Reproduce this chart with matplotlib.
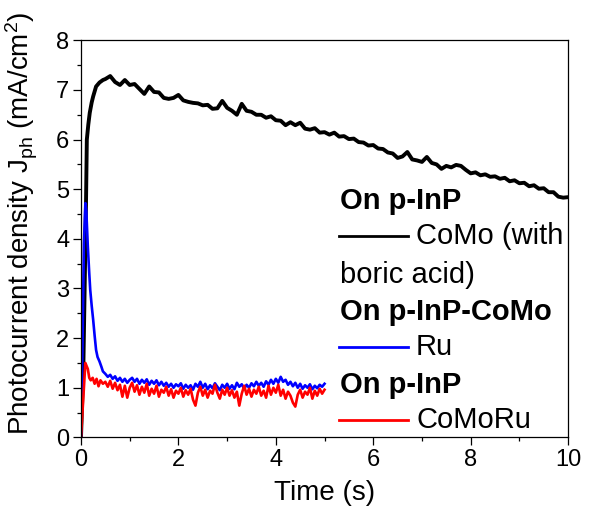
import numpy as np
import matplotlib
matplotlib.use('Agg')
import matplotlib.pyplot as plt
from matplotlib.ticker import MultipleLocator

plt.rcParams['font.family'] = ['Liberation Sans', 'DejaVu Sans']
plt.rcParams['mathtext.fontset'] = 'custom'
plt.rcParams['mathtext.rm'] = 'Liberation Sans'
plt.rcParams['mathtext.default'] = 'regular'

# CoMo (with boric acid) on p-InP
como_t_head = [0, 0.05, 0.10, 0.12, 0.15, 0.18, 0.22, 0.25, 0.31, 0.38, 0.45]
como_v_head = [0, 1.5, 4.5, 6.0, 6.3, 6.54, 6.75, 6.87, 7.07, 7.15, 7.2]
como_v_tail = [  # 0.5 .. 10.0 s, every 0.1 s
    7.22, 7.28, 7.16, 7.10, 7.20, 7.10, 7.12, 7.02, 6.92, 7.07,
    6.96, 6.95, 6.84, 6.82, 6.84, 6.90, 6.79, 6.76, 6.74, 6.73,
    6.69, 6.70, 6.62, 6.63, 6.78, 6.64, 6.58, 6.50, 6.72, 6.58,
    6.56, 6.50, 6.50, 6.44, 6.47, 6.39, 6.38, 6.29, 6.35, 6.29,
    6.34, 6.22, 6.20, 6.23, 6.14, 6.15, 6.10, 6.14, 6.06, 6.07,
    6.01, 6.02, 5.95, 5.94, 5.88, 5.89, 5.82, 5.81, 5.74, 5.72,
    5.63, 5.66, 5.75, 5.60, 5.58, 5.55, 5.65, 5.53, 5.50, 5.41,
    5.47, 5.44, 5.49, 5.47, 5.39, 5.32, 5.34, 5.28, 5.30, 5.25,
    5.26, 5.21, 5.23, 5.16, 5.18, 5.12, 5.13, 5.06, 5.08, 5.01,
    5.02, 4.94, 4.94, 4.85, 4.83, 4.84]

# Ru on p-InP-CoMo
ru_t_head = [0, 0.03, 0.06, 0.09, 0.11, 0.14, 0.17, 0.19, 0.22, 0.25, 0.28,
             0.31, 0.34, 0.38, 0.42, 0.45]
ru_v_head = [0, 1.8, 3.9, 4.72, 4.55, 3.85, 3.3, 2.97, 2.65, 2.37, 2.05,
             1.76, 1.62, 1.53, 1.42, 1.33]
ru_v_tail = [  # 0.5 .. 5.0 s, every 0.05 s
    1.28, 1.22, 1.26, 1.18, 1.23, 1.14, 1.20, 1.12, 1.18, 1.10,
    1.16, 1.20, 1.12, 1.18, 1.08, 1.16, 1.10, 1.17, 1.06, 1.14,
    1.08, 1.15, 1.05, 1.12, 1.04, 1.10, 1.02, 1.08, 1.00, 1.07,
    1.03, 1.09, 0.98, 1.06, 1.00, 1.05, 0.96, 1.08, 1.02, 1.12,
    1.00, 1.08, 0.97, 1.05, 0.99, 1.09, 1.02, 0.95, 1.06, 1.00,
    1.08, 0.98, 1.05, 0.97, 1.10, 1.02, 1.07, 0.98, 1.06, 1.00,
    1.09, 1.03, 1.12, 1.04, 1.10, 1.02, 1.13, 1.06, 1.16, 1.08,
    1.18, 1.10, 1.22, 1.12, 1.16, 1.06, 1.12, 1.03, 1.10, 1.00,
    1.08, 0.98, 1.05, 1.00, 1.07, 0.97, 1.04, 0.99, 1.06, 1.02,
    1.08]

# CoMoRu on p-InP
comoru_t_head = [0, 0.03, 0.06, 0.09, 0.11, 0.14, 0.17, 0.20, 0.24, 0.28,
                 0.32, 0.36, 0.40, 0.45]
comoru_v_head = [0, 0.5, 1.0, 1.5, 1.45, 1.38, 1.2, 1.15, 1.2, 1.08,
                 1.18, 1.03, 1.15, 1.08]
comoru_v_tail = [  # 0.5 .. 5.0 s, every 0.05 s
    1.12, 1.02, 1.14, 0.98, 1.10, 0.95, 1.06, 0.82, 1.04, 0.80,
    1.00, 1.10, 0.92, 1.05, 0.86, 1.02, 0.90, 1.08, 0.84, 0.98,
    0.88, 1.04, 0.82, 0.96, 0.90, 1.02, 0.84, 0.97, 0.80, 0.94,
    0.88, 1.00, 0.82, 0.95, 0.86, 0.98, 0.76, 0.64, 0.90, 1.02,
    0.84, 0.96, 0.80, 0.94, 0.88, 1.06, 0.90, 0.78, 0.96, 0.86,
    1.00, 0.84, 0.95, 0.80, 0.92, 0.64, 0.88, 1.04, 0.86, 0.98,
    0.82, 0.96, 0.88, 1.02, 0.84, 0.94, 0.80, 1.04, 0.86, 1.00,
    0.90, 1.06, 0.84, 0.96, 0.78, 0.92, 0.84, 0.70, 0.62, 0.86,
    0.96, 0.80, 0.92, 0.86, 1.00, 0.78, 0.94, 0.84, 0.98, 0.88,
    0.96]

como_t = np.concatenate([como_t_head, np.linspace(0.5, 10.0, len(como_v_tail))])
como_v = np.concatenate([como_v_head, como_v_tail])
ru_t = np.concatenate([ru_t_head, np.linspace(0.5, 5.0, len(ru_v_tail))])
ru_v = np.concatenate([ru_v_head, ru_v_tail])
comoru_t = np.concatenate([comoru_t_head, np.linspace(0.5, 5.0, len(comoru_v_tail))])
comoru_v = np.concatenate([comoru_v_head, comoru_v_tail])

fig = plt.figure(figsize=(5.89, 5.17), dpi=100)
ax = fig.add_axes([0.1375, 0.154, 0.827, 0.768])

ax.plot(como_t, como_v, color='black', lw=2.8)
ax.plot(ru_t, ru_v, color='#0000ff', lw=1.9)
ax.plot(comoru_t, comoru_v, color='#ff0000', lw=1.9)

ax.set_xlim(0, 10)
ax.set_ylim(0, 8)
ax.xaxis.set_major_locator(MultipleLocator(2))
ax.xaxis.set_minor_locator(MultipleLocator(1))
ax.yaxis.set_major_locator(MultipleLocator(1))
ax.yaxis.set_minor_locator(MultipleLocator(0.5))
ax.tick_params(which='both', direction='out', width=0.9, labelsize=17, pad=3)
ax.tick_params(which='major', length=5.5)
ax.tick_params(which='minor', length=3)
for s in ax.spines.values():
    s.set_linewidth(0.9)

ax.set_xlabel('Time (s)', fontsize=20, labelpad=6)
ax.set_ylabel('Photocurrent density J$_{ph}$ (mA/cm$^{2}$)', fontsize=20)
ax.yaxis.set_label_coords(-0.085, 0.54)

# legend drawn by hand: bold group headers with line entries under them
hx, lx0, lx1, tx = 0.532, 0.530, 0.671, 0.688
fs = 21
rows = [
    ('head', 'On p-InP', 0.596, None),
    ('line', 'CoMo (with', 0.506, 'black'),
    ('text', 'boric acid)', 0.409, None),
    ('head', 'On p-InP-CoMo', 0.317, None),
    ('line', 'Ru', 0.228, '#0000ff'),
    ('head', 'On p-InP', 0.132, None),
    ('line', 'CoMoRu', 0.044, '#ff0000'),
]
for kind, label, y, col in rows:
    if kind == 'head':
        ax.text(hx, y, label, transform=ax.transAxes, fontsize=fs,
                fontweight='bold', va='center', ha='left')
    elif kind == 'line':
        ax.plot([lx0, lx1], [y, y], transform=ax.transAxes, color=col,
                lw=2.0, clip_on=False)
        ax.text(tx, y, label, transform=ax.transAxes, fontsize=fs,
                va='center', ha='left')
    else:
        ax.text(hx, y, label, transform=ax.transAxes, fontsize=fs,
                va='center', ha='left')

fig.savefig('out.png', dpi=100)
